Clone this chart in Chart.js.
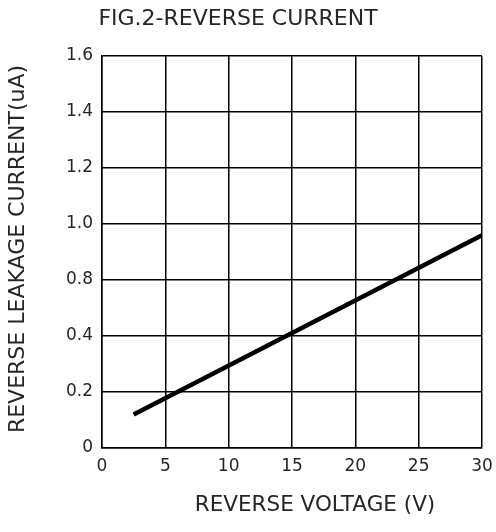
<!DOCTYPE html>
<html>
<head>
<meta charset="utf-8">
<script src="https://cdn.jsdelivr.net/npm/chart.js@4/dist/chart.umd.min.js"></script>
<style>
html,body{margin:0;padding:0;background:#fff;}
#wrap{width:496px;height:532px;}
</style>
</head>
<body>
<div id="wrap"><canvas id="c" width="496" height="532"></canvas></div>
<script>
// ---- data ----
const chartTitle = 'FIG.2-REVERSE CURRENT';
const xTitle = 'REVERSE VOLTAGE (V)';
const yTitle = 'REVERSE LEAKAGE CURRENT(uA)';
const xTicks = [0, 5, 10, 15, 20, 25, 30];
// labels printed on the 8 evenly spaced horizontal grid lines (the original skips 0.6)
const yTickLabels = ['0', '0.2', '0.4', '0.8', '1.0', '1.2', '1.4', '1.6'];
const yTickValues = [0, 0.2, 0.4, 0.8, 1.0, 1.2, 1.4, 1.6];
const voltage = [2.5, 30];
const current = [0.12, 0.96];

// map a current value onto the evenly spaced grid positions
function toGridPos(v) {
  for (let i = 0; i < yTickValues.length - 1; i++) {
    const a = yTickValues[i], b = yTickValues[i + 1];
    if (v <= b) return i + (v - a) / (b - a);
  }
  return yTickValues.length - 1;
}

const FONT = "'DejaVu Sans', sans-serif";
const TXT = '#262626';

const textPlugin = {
  id: 'texts',
  afterDraw(chart) {
    const ctx = chart.ctx;
    ctx.save();
    ctx.fillStyle = TXT;
    ctx.textBaseline = 'middle';
    ctx.textAlign = 'center';
    ctx.font = '22px ' + FONT;
    ctx.fillText(chartTitle, 238, 19);
    ctx.save();
    ctx.translate(18, 249);
    ctx.rotate(-Math.PI / 2);
    ctx.fillText(yTitle, 0, 0);
    ctx.restore();
    ctx.font = '21.5px ' + FONT;
    ctx.fillText(xTitle, 315, 505);
    ctx.restore();
  }
};

new Chart(document.getElementById('c'), {
  type: 'scatter',
  data: {
    datasets: [{
      data: voltage.map((x, i) => ({ x: x, y: toGridPos(current[i]) })),
      showLine: true,
      borderColor: '#000',
      borderWidth: 4.5,
      pointRadius: 0,
      borderCapStyle: 'butt',
      fill: false
    }]
  },
  options: {
    responsive: false,
    animation: false,
    devicePixelRatio: 1,
    layout: { padding: { left: 0, right: 14, top: 56, bottom: 0 } },
    plugins: { legend: { display: false }, tooltip: { enabled: false }, title: { display: false } },
    scales: {
      x: {
        type: 'linear',
        min: xTicks[0], max: xTicks[xTicks.length - 1],
        afterBuildTicks(s) { s.ticks = xTicks.map(v => ({ value: v })); },
        afterFit(s) { s.height = 84; s.paddingRight = 0; s.paddingLeft = 0; },
        grid: { color: '#000', lineWidth: 1.5, drawTicks: false },
        border: { color: '#000', width: 1.5 },
        ticks: { color: TXT, font: { family: FONT, size: 17 }, padding: 8, maxRotation: 0 }
      },
      y: {
        type: 'linear',
        min: 0, max: yTickLabels.length - 1,
        afterBuildTicks(s) { s.ticks = yTickLabels.map((l, i) => ({ value: i })); },
        afterFit(s) { s.width = 102; s.paddingTop = 0; s.paddingBottom = 0; },
        grid: { color: '#000', lineWidth: 1.5, drawTicks: false },
        border: { color: '#000', width: 1.5 },
        ticks: {
          color: TXT, font: { family: FONT, size: 17 }, padding: 9,
          callback: (v) => yTickLabels[Math.round(v)]
        }
      }
    }
  },
  plugins: [textPlugin]
});
</script>
</body>
</html>
